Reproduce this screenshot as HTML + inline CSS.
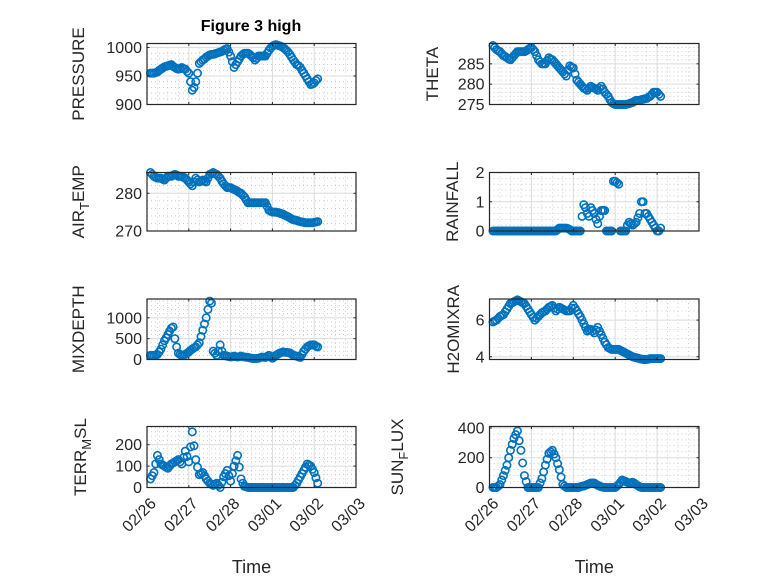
<!DOCTYPE html>
<html><head><meta charset="utf-8"><style>
html,body{margin:0;padding:0;background:#fff;}
svg{display:block;font-family:"Liberation Sans",sans-serif;}
</style></head><body>
<svg id="fig" width="778" height="583" viewBox="0 0 778 583" xmlns="http://www.w3.org/2000/svg">
<rect x="0" y="0" width="778" height="583" fill="#fff"/>
<text x="251" y="31" text-anchor="middle" font-size="16" font-weight="bold" fill="#000">Figure 3 high</text>
</svg>
<script>
const hours = [2,3,4,5,6,7,8,9,10,11,12,13,14,15,16,17,18,19,20,21,22,23,24,25,26,27,28,29,30,31,32,33,34,35,36,37,38,39,40,41,42,43,44,45,46,47,48,49,50,51,52,53,54,55,56,57,58,59,60,61,62,63,64,65,66,67,68,69,70,71,72,73,74,75,76,77,78,79,80,81,82,83,84,85,86,87,88,89,90,91,92,93,94,95,96,97,98];
const xTickLabels = ["02/26","02/27","02/28","03/01","03/02","03/03"];
const pressure = [955,955,955,956,957,960,962,964,966,967,968,969,970,967,965,963,962,963,965,963,962,958,955,940,925,930,940,955,972,975,978,980,983,985,987,988,988,989,990,991,992,993,995,997,998,992,985,975,965,970,975,980,985,988,990,990,990,988,985,982,978,981,985,985,985,985,985,990,995,999,1002,1004,1005,1004,1003,1002,1000,998,995,992,988,983,978,974,970,968,965,960,955,950,945,940,935,936,938,942,945];
const theta = [289.5,289,288.5,288.2,288,287.5,287,286.8,286.5,286.2,286,286.5,287,287.5,288,288,288,288,288,288.2,288.5,288.8,289,288.5,288,287,286,285.5,285,285,285,285.8,286.5,286.2,286,285.5,285,284.5,284,283.5,283,282.5,282,283.5,284.5,284.2,284,282.5,281,280.5,280,279.5,279,278.8,278.5,279,279.5,279.2,279,278.8,278.5,279,279.5,278.8,278,277.5,277,276.2,275.5,275.2,275,275,275,275,275,275,275,275.1,275.2,275.4,275.5,275.8,276,276,276,276.2,276.3,276.4,276.5,276.8,277,277.5,278,278,278,277.5,277];
const airTemp = [285.5,285,284.5,284.2,284,284,284,283.8,283.5,284,284.5,284.5,284.5,284.8,285,284.8,284.5,284.5,284.5,284.2,284,283.5,283,282.5,282,283,284,283.5,283,283.2,283.5,283.2,283,284,285,285.2,285.5,285.2,285,284.5,284,283.2,282.5,282,281.5,281.5,281.5,281.2,281,280.8,280.5,280.2,280,279.5,279,278.2,277.5,277.5,277.5,277.5,277.5,277.5,277.5,277.5,277.5,277.5,277.5,276.5,275.5,275.2,275,275,275,274.9,274.8,274.6,274.5,274.2,274,273.8,273.5,273.2,273,272.9,272.8,272.6,272.5,272.4,272.3,272.2,272.2,272.2,272.2,272.2,272.3,272.4,272.5];
const rainfall = [0,0,0,0,0,0,0,0,0,0,0,0,0,0,0,0,0,0,0,0,0,0,0,0,0,0,0,0,0,0,0,0,0,0,0,0,0,0.05,0.1,0.1,0.1,0.1,0.1,0.08,0.05,0,0,0,0,0,0,0.5,0.9,0.8,0.6,0.5,0.8,0.7,0.6,0.4,0.25,0.5,0.7,0.7,0.7,0,0,0,0,1.7,1.7,1.65,1.6,0,0,0,0,0.2,0.3,0.25,0.2,0.25,0.3,0.45,0.6,1.0,1.0,0.6,0.6,0.5,0.4,0.3,0.2,0.1,0,0,0.1];
const mixDepth = [100,100,100,110,120,180,250,350,450,520,600,680,750,780,500,300,150,120,100,110,120,150,180,220,250,280,300,350,400,550,700,850,1000,1200,1400,1350,200,150,100,200,350,200,100,90,80,70,60,70,80,70,60,70,80,70,60,55,50,40,30,25,20,25,30,45,60,55,50,75,100,60,30,60,100,125,150,165,180,175,170,165,160,130,100,90,80,65,50,120,200,250,300,330,350,350,350,320,300];
const h2oMix = [5.9,5.95,6.0,6.1,6.2,6.25,6.3,6.45,6.6,6.75,6.9,6.95,7.0,7.05,7.1,7.05,7.0,6.95,6.9,6.75,6.6,6.45,6.3,6.15,6.0,6.1,6.2,6.3,6.4,6.45,6.5,6.6,6.7,6.75,6.8,6.65,6.5,6.6,6.7,6.65,6.6,6.55,6.5,6.5,6.5,6.65,6.8,6.65,6.5,6.35,6.2,6.0,5.8,5.6,5.4,5.45,5.5,5.4,5.3,5.45,5.6,5.4,5.2,5.0,4.8,4.65,4.5,4.45,4.4,4.4,4.4,4.4,4.4,4.35,4.3,4.25,4.2,4.15,4.1,4.05,4.0,3.97,3.95,3.92,3.9,3.87,3.85,3.85,3.85,3.87,3.9,3.9,3.9,3.9,3.9,3.9,3.9];
const terrMsl = [40,55,70,110,150,130,110,105,100,95,90,100,110,115,120,125,130,120,110,140,170,145,120,190,260,195,130,95,60,65,70,55,40,30,20,15,10,15,20,10,0,25,50,65,80,55,30,65,100,125,150,95,40,20,5,3,0,0,0,0,0,0,0,0,0,0,0,0,0,0,0,0,0,0,0,0,0,0,0,0,0,0,0,10,20,35,50,65,80,95,110,105,100,85,70,45,20];
const sunFlux = [0,0,0,10,20,50,80,115,150,200,250,290,330,355,380,315,250,165,80,40,0,0,0,0,0,0,0,30,60,105,150,190,230,240,250,225,200,160,120,70,20,10,0,0,0,0,0,0,0,0,5,8,10,15,20,25,30,30,30,22,15,10,5,2,0,0,0,0,0,0,0,10,20,35,50,45,40,35,30,32,35,28,20,12,5,0,0,0,0,0,0,0,0,0,0,0,0];

const NS="http://www.w3.org/2000/svg";
const svg=document.getElementById('fig');
function mk(tag,attrs,parent){const e=document.createElementNS(NS,tag);for(const k in attrs)e.setAttribute(k,attrs[k]);(parent||svg).appendChild(e);return e;}

const panels=[
 {id:'pressure',data:pressure,x0:147,x1:356,y0:43.5,y1:104.5,ymin:900,ymax:1007,ticks:[900,950,1000],minor:10,label:['PRESSURE'],lx:78,bottom:false},
 {id:'theta',data:theta,x0:489.5,x1:699,y0:43.5,y1:104.5,ymin:275,ymax:290,ticks:[275,280,285],minor:1,label:['THETA'],lx:432,bottom:false},
 {id:'air-temp',data:airTemp,x0:147,x1:356,y0:172.5,y1:231,ymin:270,ymax:285.5,ticks:[270,280],minor:2,label:['AIR','T','EMP'],lx:78,bottom:false},
 {id:'rainfall',data:rainfall,x0:489.5,x1:699,y0:172.5,y1:231,ymin:0,ymax:2,ticks:[0,1,2],minor:0.2,label:['RAINFALL'],lx:452,bottom:false},
 {id:'mixdepth',data:mixDepth,x0:147,x1:356,y0:299,y1:359.5,ymin:0,ymax:1450,ticks:[0,500,1000],minor:100,label:['MIXDEPTH'],lx:78,bottom:false},
 {id:'h2omixra',data:h2oMix,x0:489.5,x1:699,y0:299,y1:359.5,ymin:3.85,ymax:7.15,ticks:[4,6],minor:0.5,label:['H2OMIXRA'],lx:453,bottom:false},
 {id:'terr-msl',data:terrMsl,x0:147,x1:356,y0:426.5,y1:487.5,ymin:0,ymax:285,ticks:[0,100,200],minor:20,label:['TERR','M','SL'],lx:80,bottom:true},
 {id:'sun-flux',data:sunFlux,x0:489.5,x1:699,y0:426.5,y1:487.5,ymin:0,ymax:410,ticks:[0,200,400],minor:40,label:['SUN','F','LUX'],lx:397,bottom:true}
];

panels.forEach(p=>{
  const g=mk('g',{});
  
  
  const xs=h=>p.x0+(h/24)/5*(p.x1-p.x0);
  const ys=v=>p.y1-(v-p.ymin)/(p.ymax-p.ymin)*(p.y1-p.y0);
  mk('rect',{x:p.x0,y:p.y0,width:p.x1-p.x0,height:p.y1-p.y0,fill:'#fff'},g);
  for(let h=6;h<120;h+=6){ if(h%24===0) continue; const x=xs(h);
    mk('line',{x1:x,x2:x,y1:p.y0,y2:p.y1,stroke:'#b0b0b0','stroke-width':0.6,'stroke-dasharray':'1,3'},g);}
  const start=Math.ceil(p.ymin/p.minor-1e-9);
  for(let k=start;k*p.minor<=p.ymax+1e-9;k++){const v=k*p.minor; if(p.ticks.some(t=>Math.abs(t-v)<1e-6)) continue; const y=ys(v);
    mk('line',{x1:p.x0,x2:p.x1,y1:y,y2:y,stroke:'#b0b0b0','stroke-width':0.6,'stroke-dasharray':'1,3'},g);}
  for(let d=1;d<5;d++){const x=xs(d*24); mk('line',{x1:x,x2:x,y1:p.y0,y2:p.y1,stroke:'#dcdcdc','stroke-width':1},g);}
  p.ticks.forEach(t=>{const y=ys(t); mk('line',{x1:p.x0,x2:p.x1,y1:y,y2:y,stroke:'#dcdcdc','stroke-width':1},g);});
  const dg=mk('g',{},g);
  
  
  const n=Math.min(hours.length,p.data.length);
  for(let i=0;i<n;i++){
    const c=mk('circle',{cx:xs(hours[i]),cy:ys(p.data[i]),r:3.7,fill:'none',stroke:'#0072BD','stroke-width':1.6},dg);
    
    
  }
  for(let d=0;d<=5;d++){const x=xs(d*24);
    mk('line',{x1:x,x2:x,y1:p.y1,y2:p.y1-2.5,stroke:'#262626','stroke-width':1},g);
    mk('line',{x1:x,x2:x,y1:p.y0,y2:p.y0+2.5,stroke:'#262626','stroke-width':1},g);}
  p.ticks.forEach(t=>{const y=ys(t);
    mk('line',{x1:p.x0,x2:p.x0+2.5,y1:y,y2:y,stroke:'#262626','stroke-width':1},g);
    mk('line',{x1:p.x1,x2:p.x1-2.5,y1:y,y2:y,stroke:'#262626','stroke-width':1},g);
    const tl=mk('text',{x:p.x0-5,y:y+5.5,'text-anchor':'end','font-size':16,fill:'#262626'},g);
    tl.textContent=String(t);
    
    
  });
  mk('rect',{x:p.x0,y:p.y0,width:p.x1-p.x0,height:p.y1-p.y0,fill:'none',stroke:'#262626','stroke-width':1.2},g);
  const cy=(p.y0+p.y1)/2;
  const lab=mk('text',{x:p.lx+6,y:cy,'text-anchor':'middle','font-size':17,fill:'#262626',transform:`rotate(-90 ${p.lx+6} ${cy})`},g);
  
  
  if(p.label.length===1){lab.textContent=p.label[0];}
  else{
    const a=mk('tspan',{},lab);a.textContent=p.label[0];
    const b=mk('tspan',{dy:5,'font-size':13},lab);b.textContent=p.label[1];
    const c=mk('tspan',{dy:-5},lab);c.textContent=p.label[2];
  }
  if(p.bottom){
    xTickLabels.forEach((s,d)=>{const x=xs(d*24)+10, y=p.y1+17;
      const t=mk('text',{x:x,y:y,'text-anchor':'end','font-size':16,fill:'#262626',transform:`rotate(-45 ${x} ${y})`},g);
      t.textContent=s;
      
      
    });
    const xl=mk('text',{x:(p.x0+p.x1)/2,y:573,'text-anchor':'middle','font-size':18,fill:'#262626'},g);
    xl.textContent='Time';
    
    
  }
});
</script>
</body></html>
